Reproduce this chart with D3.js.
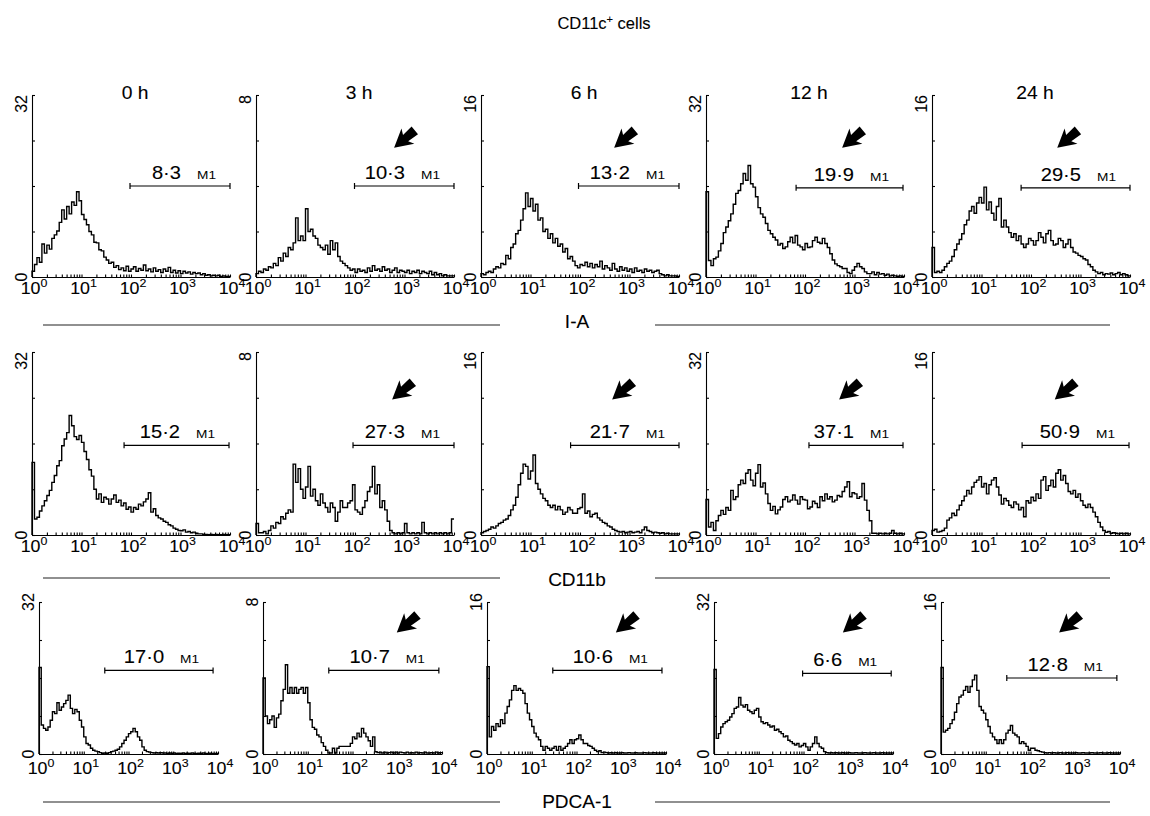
<!DOCTYPE html>
<html>
<head>
<meta charset="utf-8">
<script src="https://cdn.jsdelivr.net/npm/d3@7"></script>
<style>
  body { margin: 0; background: #fff; }
  svg { font-family: "Liberation Sans", Arial, Helvetica, sans-serif; }
  svg text { fill: #000; stroke: #000; stroke-width: 0.1px; }
</style>
</head>
<body>
<svg id="chart" width="1150" height="816"></svg>
<script>
// ---- data ----
var markers = ["I-A", "CD11b", "PDCA-1"];
var times = ["0 h", "3 h", "6 h", "12 h", "24 h"];
var yMax = [32, 8, 16, 32, 16];
var binWidth = 0.05; // decades per channel bin (80 bins from 10^0 to 10^4)

var iaCounts = [
  [1.0,2.2,3.4,2.6,5.8,4.2,5.6,4.9,6.8,7.4, 8.1,9.6,11.8,10.2,12.4,11.1,13.2,12.6,15.0,13.4,
   11.0,10.1,9.2,8.0,7.4,6.1,6.0,4.8,4.6,3.5, 3.0,2.4,2.6,1.7,2.0,1.3,1.6,1.1,1.9,1.0,
   1.4,1.8,1.0,1.5,1.2,2.1,1.1,1.4,0.9,1.6, 1.0,1.3,0.8,1.4,1.0,1.7,0.8,1.2,0.7,1.1,
   0.6,1.0,0.7,0.9,0.5,0.8,0.6,0.7,0.4,0.6, 0.3,0.4,0.2,0.3,0.2,0.3,0.1,0.2,0.1,0.1],
  [0.15,0.25,0.2,0.35,0.3,0.45,0.4,0.6,0.5,0.85, 0.7,1.05,0.9,1.3,1.2,1.5,2.6,1.6,1.8,1.6,
   3.0,2.0,2.1,1.8,1.7,1.4,1.3,1.2,1.4,1.0, 1.6,1.2,1.5,0.9,0.7,0.6,0.5,0.4,0.3,0.35,
   0.2,0.35,0.25,0.3,0.2,0.4,0.25,0.5,0.3,0.35, 0.25,0.45,0.3,0.35,0.2,0.3,0.4,0.2,0.3,0.25,
   0.2,0.3,0.15,0.25,0.2,0.3,0.15,0.25,0.2,0.15, 0.25,0.1,0.2,0.1,0.15,0.05,0.1,0.05,0.05,0.05],
  [0.3,0.2,0.4,0.5,0.4,0.7,0.9,0.8,1.2,1.1, 1.9,1.6,2.6,2.9,3.8,4.1,5.0,6.0,7.4,6.2,
   6.9,5.8,6.4,5.0,5.2,4.0,4.2,3.4,3.8,3.0, 3.4,2.7,2.9,2.2,2.5,1.6,1.8,1.4,1.0,0.8,
   1.1,1.0,1.3,0.9,1.2,0.8,1.1,0.9,1.4,0.7, 1.0,0.8,0.6,1.2,0.7,0.5,0.9,0.6,0.8,0.5,
   0.7,0.4,0.8,0.5,0.6,0.4,0.7,0.5,0.6,0.4, 0.5,0.6,0.3,0.2,0.1,0.2,0.1,0.1,0.1,0.05],
  [15,2.9,2.0,3.2,3.5,4.6,5.9,7.8,8.8,9.9, 11.1,12.8,14.7,15.2,16.4,18.2,17.0,19.6,16.4,15.8,
   14.1,12.2,11.1,10.5,9.4,8.2,7.6,7.0,6.5,5.6, 5.9,5.0,5.3,6.2,7.0,6.0,7.3,5.6,5.3,4.8,
   5.9,5.2,5.3,6.4,7.0,6.1,5.9,6.8,5.9,5.2, 4.1,3.0,2.3,2.0,1.8,1.5,1.5,0.8,0.6,1.2,
   1.8,2.4,1.8,1.5,0.9,0.6,0.6,0.9,0.4,0.8, 0.5,0.6,0.3,0.5,0.2,0.3,0.2,0.1,0.2,0.1],
  [2.6,0.4,0.5,0.4,0.6,0.9,1.2,1.4,1.8,2.4, 2.9,3.3,3.8,4.6,5.0,5.8,6.2,5.6,6.5,7.0,
   6.5,7.9,5.9,6.6,5.6,5.0,6.2,6.9,4.4,5.0, 4.4,3.9,3.5,3.8,3.2,3.6,2.9,2.6,2.9,3.4,
   3.2,2.8,3.2,3.9,3.5,3.0,3.8,4.1,3.2,2.8, 2.9,3.4,3.2,2.6,2.9,3.3,2.6,2.2,2.1,1.9,
   1.8,1.6,1.5,1.1,0.9,0.6,0.45,0.3,0.4,0.2, 0.3,0.25,0.35,0.2,0.3,0.4,0.2,0.3,0.2,0.1]
];

var cd11bCounts = [
  [12.7,2.8,3.1,4.2,5.1,6.0,6.9,7.8,9.2,10.4, 12.1,13.0,15.6,16.8,17.9,20.9,19.1,17.2,16.7,17.4,
   16.2,14.6,13.2,11.4,10.3,8.0,6.3,7.2,5.7,6.6, 6.3,5.4,6.3,7.0,5.7,6.1,5.1,5.6,4.5,4.9,
   4.0,4.8,4.5,5.4,5.1,5.8,6.3,7.4,4.0,4.6, 3.4,3.0,2.8,2.4,2.2,1.8,1.6,1.2,1.0,0.8,
   0.75,0.9,0.5,0.6,0.4,0.5,0.3,0.2,0.2,0.1, 0.1,0.05,0.1,0.05,0.1,0.05,0.05,0.1,0.05,0.05],
  [0.5,0.1,0.1,0.15,0.05,0.2,0.4,0.3,0.55,0.5, 0.8,0.7,0.95,1.1,1.0,3.1,2.3,2.9,2.0,1.6,
   2.1,3.0,1.7,2.0,1.5,1.3,1.8,1.4,1.2,1.0, 1.4,1.2,0.6,1.0,1.5,1.2,1.2,1.4,1.5,2.2,
   1.1,1.0,0.9,1.2,1.5,1.9,2.1,3.0,1.8,2.2, 1.2,1.5,1.1,0.6,0.2,0.1,0.05,0.1,0.05,0.1,
   0.5,0.1,0.05,0.1,0.05,0.1,0.05,0.55,0.1,0.05, 0.1,0.05,0.1,0.05,0.1,0.05,0.1,0.05,0.1,0.7],
  [0.2,0.3,0.4,0.5,0.7,0.6,0.8,1.0,1.1,1.3, 1.4,1.7,2.2,2.6,3.3,4.4,5.4,6.2,6.0,4.9,
   5.6,7.0,4.5,4.0,3.6,3.2,3.0,2.6,2.4,2.6, 2.2,2.5,2.2,1.8,2.0,2.4,2.2,1.9,1.9,2.3,
   2.4,3.6,1.9,2.1,1.6,1.8,1.9,1.5,1.3,1.1, 1.0,0.8,0.7,0.5,0.4,0.3,0.25,0.3,0.2,0.25,
   0.3,0.2,0.25,0.3,0.2,0.45,0.7,0.4,0.3,0.2, 0.25,0.2,0.15,0.2,0.1,0.15,0.1,0.1,0.1,0.1],
  [6.2,1.4,2.2,0.8,2.5,3.4,4.3,3.6,4.8,4.3, 7.8,6.2,6.7,8.8,9.6,9.0,10.8,11.4,9.6,8.6,
   10.8,12.3,8.4,9.1,7.2,5.5,4.3,5.0,3.7,4.4, 4.9,6.2,6.7,5.8,6.1,7.0,6.1,5.4,6.7,6.2,
   6.1,4.6,4.9,5.9,5.5,4.8,6.7,6.0,7.2,6.3, 6.7,5.8,6.1,6.9,6.7,7.6,8.4,9.3,6.7,7.4,
   7.2,6.4,6.7,9.0,6.1,4.3,2.5,0.3,0.3,0.2, 0.3,0.2,0.3,0.2,0.3,0.8,0.3,0.2,0.3,0.2],
  [0.4,0.5,0.25,0.3,0.4,0.6,1.3,1.5,1.9,1.7, 2.2,2.6,3.0,3.4,3.9,3.6,4.2,4.6,4.8,5.1,
   4.2,4.5,3.6,4.4,4.8,5.0,4.2,3.5,2.7,3.2, 3.0,2.6,2.4,2.9,2.7,2.2,2.4,1.6,3.0,2.8,
   3.3,3.0,3.6,3.2,4.8,5.1,3.9,4.3,4.8,4.2, 5.4,5.7,4.8,5.2,4.5,3.8,3.6,3.9,3.3,3.6,
   3.0,2.6,2.4,2.7,2.4,2.0,1.6,1.1,0.7,0.4, 0.24,0.3,0.15,0.2,0.15,0.1,0.15,0.1,0.15,0.1]
];

var pdcaCounts = [
  [18.2,6.1,5.4,5.0,5.7,7.1,8.9,8.5,10.8,9.2, 9.9,10.6,11.3,12.4,9.6,8.5,9.4,8.9,7.1,5.7,
   3.6,2.2,1.9,1.2,0.8,0.6,0.5,0.3,0.15,0.2, 0.15,0.3,0.5,0.6,0.8,1.0,1.5,2.2,2.9,3.6,
   4.3,4.7,5.4,4.7,3.6,2.9,1.5,0.8,0.5,0.4, 0.3,0.2,0.3,0.2,0.3,0.2,0.2,0.1,0.2,0.1,
   0.2,0.1,0.15,0.1,0.2,0.1,0.15,0.1,0.2,0.1, 0.1,0.15,0.1,0.2,0.1,0.1,0.15,0.1,0.1,0.1],
  [4.0,2.0,1.6,1.8,2.0,1.4,1.9,2.1,2.8,3.4, 4.7,3.2,3.5,3.2,3.5,3.2,3.4,3.5,3.2,3.5,
   2.7,1.8,1.4,1.3,1.0,0.9,0.6,0.4,0.2,0.05, 0.05,0.3,0.05,0.3,0.4,0.4,0.4,0.4,0.4,0.56,
   0.9,0.8,1.1,0.9,1.35,1.1,0.9,0.7,0.4,0.9, 0.12,0.07,0.1,0.05,0.1,0.05,0.07,0.1,0.05,0.1,
   0.05,0.1,0.07,0.05,0.1,0.05,0.07,0.05,0.1,0.05, 0.07,0.05,0.1,0.05,0.05,0.07,0.05,0.1,0.05,0.07],
  [9.2,1.8,2.9,2.5,3.2,2.9,3.6,3.2,4.3,5.0, 5.7,6.7,7.2,6.7,6.9,6.7,6.4,5.3,4.3,3.6,
   2.9,2.2,1.8,1.5,0.8,0.4,0.8,0.6,0.4,0.6, 0.8,0.4,0.8,0.4,0.6,0.8,1.1,1.5,1.1,1.5,
   1.6,2.0,1.5,1.1,1.1,0.9,0.8,0.6,0.4,0.25, 0.35,0.15,0.2,0.15,0.1,0.15,0.1,0.15,0.1,0.1,
   0.15,0.1,0.1,0.15,0.1,0.1,0.15,0.1,0.1,0.1, 0.15,0.1,0.1,0.1,0.15,0.1,0.1,0.1,0.1,0.1],
  [17.8,3.3,4.3,5.7,6.4,6.8,7.1,7.8,8.5,9.6, 9.9,11.9,10.3,9.9,10.4,9.2,8.9,8.5,9.2,9.6,
   7.8,6.8,6.4,6.6,6.1,5.7,5.9,5.0,5.2,4.7, 4.3,3.6,3.8,2.9,2.6,2.2,1.9,2.2,1.5,1.8,
   2.2,1.5,0.8,1.5,2.2,3.6,2.2,1.5,1.2,0.5, 0.3,0.2,0.3,0.2,0.3,0.2,0.2,0.3,0.2,0.2,
   0.3,0.2,0.2,0.3,0.2,0.2,0.2,0.3,0.2,0.2, 0.2,0.3,0.2,0.2,0.2,0.3,0.2,0.2,0.2,0.2],
  [9.1,2.3,2.5,2.7,3.2,3.6,4.4,5.3,6.0,6.2, 6.7,7.1,6.5,7.1,7.8,8.3,6.7,5.0,4.6,4.3,
   3.6,2.9,2.2,1.8,1.5,1.1,1.5,1.1,1.5,2.2, 2.5,3.0,2.2,2.0,1.8,1.1,1.3,1.1,0.8,0.4,
   0.6,0.6,0.4,0.35,0.25,0.2,0.15,0.1,0.15,0.1, 0.15,0.1,0.1,0.15,0.1,0.1,0.15,0.1,0.1,0.1,
   0.15,0.1,0.1,0.15,0.1,0.1,0.1,0.15,0.1,0.1, 0.1,0.15,0.1,0.1,0.1,0.15,0.1,0.1,0.1,0.1]
];

// % of cells inside the M1 gate
var m1Percent = [
  ["8·3", "10·3", "13·2", "19·9", "29·5"],
  ["15·2", "27·3", "21·7", "37·1", "50·9"],
  ["17·0", "10·7", "10·6", "6·6", "12·8"]
];
// M1 gate bounds, log10 of fluorescence
var m1Gates = [
  [[1.98, 4.0], [1.99, 4.0], [1.97, 4.0], [1.82, 3.98], [1.80, 4.0]],
  [[1.86, 3.98], [1.96, 4.0], [1.81, 4.0], [2.08, 3.98], [1.82, 3.98]],
  [[1.47, 3.89], [1.47, 3.93], [1.47, 3.91], [1.98, 3.96], [1.47, 3.93]]
];
// gate marker height, as share of the y maximum
var m1Level = [
  [0.50, 0.50, 0.50, 0.49, 0.49],
  [0.49, 0.49, 0.49, 0.49, 0.49],
  [0.55, 0.55, 0.55, 0.53, 0.50]
];
// arrow tips: [log10 x, share of y max]; none at 0 h
var arrowTips = [
  [null, [2.79, 0.71], [2.69, 0.71], [2.75, 0.71], [2.53, 0.71]],
  [null, [2.75, 0.74], [2.65, 0.74], [2.69, 0.74], [2.48, 0.74]],
  [null, [2.99, 0.80], [2.88, 0.80], [2.88, 0.80], [2.64, 0.80]]
];

// ---- layout ----
var rows = [
  {top: 95, bottom: 277, left: [32, 256, 481, 706, 932], w: 198, labDy: 17, topAnchor: 'end', sep: 325, title: 328},
  {top: 352, bottom: 535, left: [32, 256, 481, 706, 932], w: 198, labDy: 17, topAnchor: 'end', sep: 578, title: 586},
  {top: 602, bottom: 754, left: [39, 263, 487, 714, 941], w: 179, labDy: 20, topAnchor: 'middle', sep: 802, title: 808}
];
var counts = [iaCounts, cd11bCounts, pdcaCounts];

var svg = d3.select('#chart');

function wideText(parent, x, y, sx) {
  return parent.append('text')
    .attr('transform', 'translate(' + x + ',' + y + ') scale(' + sx + ',1)');
}

// title
var title = svg.append('text')
  .attr('x', 604).attr('y', 29)
  .attr('text-anchor', 'middle')
  .style('font-size', '16.5px');
title.append('tspan').text('CD11c');
title.append('tspan').attr('dy', -6).style('font-size', '11px').text('+');
title.append('tspan').attr('dy', 6).text(' cells');

var arrowPath = 'M0,0 L18,-10 L15,-4 L27,-5 L27,5 L15,4 L18,10 Z';

rows.forEach(function(r, ri) {
  for (var pi = 0; pi < 5; pi++) {
    var x = d3.scaleLog().domain([1, 1e4]).range([r.left[pi], r.left[pi] + r.w]);
    var y = d3.scaleLinear().domain([0, yMax[pi]]).range([r.bottom, r.top]);
    var g = svg.append('g');

    // x axis, log ticks pointing up
    var xa = g.append('g')
      .attr('transform', 'translate(0,' + r.bottom + ')')
      .call(d3.axisBottom(x).tickValues(x.ticks()).tickSize(-2.5).tickSizeOuter(0).tickFormat(''));
    xa.selectAll('path, line').attr('stroke', '#000').attr('stroke-width', 1.1);

    // decade labels 10^n
    [1, 10, 100, 1000, 10000].forEach(function(v, k) {
      var t = wideText(g, x(v) + 2, r.bottom + r.labDy, 1.08)
        .attr('text-anchor', 'middle')
        .style('font-size', '16.5px');
      t.append('tspan').text('10');
      t.append('tspan').attr('dy', -7).style('font-size', '11.5px').text(k);
    });

    // y axis, ticks pointing in
    var ya = g.append('g')
      .attr('transform', 'translate(' + r.left[pi] + ',0)')
      .call(d3.axisLeft(y).tickValues([0, yMax[pi] / 4, yMax[pi] / 2, yMax[pi] * 3 / 4, yMax[pi]])
        .tickSize(-3).tickSizeOuter(0).tickFormat(''));
    ya.selectAll('path, line').attr('stroke', '#000').attr('stroke-width', 1.1);

    g.append('text')
      .attr('transform', 'translate(' + (r.left[pi] - 5) + ',' + r.top + ') rotate(-90)')
      .attr('text-anchor', r.topAnchor)
      .style('font-size', '16px')
      .text(yMax[pi]);
    g.append('text')
      .attr('transform', 'translate(' + (r.left[pi] - 5) + ',' + r.bottom + ') rotate(-90)')
      .attr('text-anchor', 'middle')
      .style('font-size', '16px')
      .text(0);

    // histogram as a step line
    var data = counts[ri][pi];
    var pts = [[1, 0]].concat(data.map(function(v, i) { return [Math.pow(10, i * binWidth), v]; }));
    pts.push([1e4, data[data.length - 1]]);
    var line = d3.line()
      .x(function(d) { return x(d[0]); })
      .y(function(d) { return y(d[1]); })
      .curve(d3.curveStepAfter);
    g.append('path')
      .datum(pts)
      .attr('d', line)
      .attr('fill', 'none')
      .attr('stroke', '#000')
      .attr('stroke-width', 1.4);

    // M1 gate marker
    var gate = m1Gates[ri][pi];
    var gy = y(m1Level[ri][pi] * yMax[pi]);
    var gx0 = x(Math.pow(10, gate[0])), gx1 = x(Math.pow(10, gate[1]));
    g.append('path')
      .attr('d', 'M' + gx0 + ',' + (gy - 3) + 'V' + (gy + 3) + 'M' + gx0 + ',' + gy + 'H' + gx1 +
                 'M' + gx1 + ',' + (gy - 3) + 'V' + (gy + 3))
      .attr('stroke', '#000')
      .attr('stroke-width', 1.2)
      .attr('fill', 'none');
    wideText(g, gx1 - 49, gy - 7, 1.15)
      .attr('text-anchor', 'end')
      .style('font-size', '17.5px')
      .text(m1Percent[ri][pi]);
    g.append('text')
      .attr('x', gx1 - 33).attr('y', gy - 7)
      .attr('textLength', 19).attr('lengthAdjust', 'spacingAndGlyphs')
      .style('font-size', '11px')
      .style('stroke-width', '0px')
      .text('M1');

    // arrow
    var a = arrowTips[ri][pi];
    if (a) {
      g.append('path')
        .attr('d', arrowPath)
        .attr('transform', 'translate(' + x(Math.pow(10, a[0])) + ',' + y(a[1] * yMax[pi]) + ') rotate(-40)')
        .attr('fill', '#000');
    }

    // time label over the top row
    if (ri === 0) {
      wideText(g, r.left[pi] + r.w / 2 + 4, 99, 1.1)
        .attr('text-anchor', 'middle')
        .style('font-size', '17.5px')
        .text(times[pi]);
    }
  }

  // marker name with rule lines
  svg.append('line').attr('x1', 43).attr('x2', 500).attr('y1', r.sep).attr('y2', r.sep)
    .attr('stroke', '#222').attr('stroke-width', 1.2);
  svg.append('line').attr('x1', 655).attr('x2', 1110).attr('y1', r.sep).attr('y2', r.sep)
    .attr('stroke', '#222').attr('stroke-width', 1.2);
  svg.append('text')
    .attr('x', 577).attr('y', r.title)
    .attr('text-anchor', 'middle')
    .style('font-size', '19px')
    .text(markers[ri]);
});
</script>
</body>
</html>
